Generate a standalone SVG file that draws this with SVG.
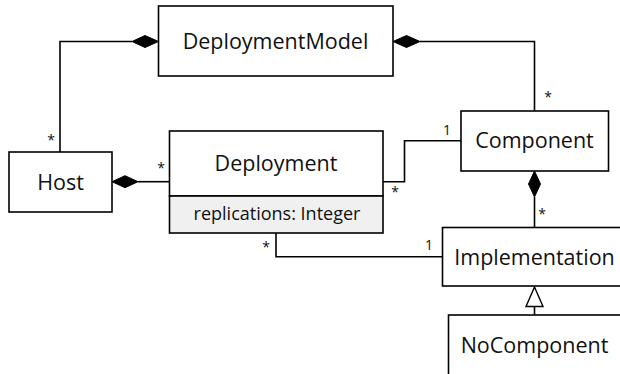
<svg xmlns="http://www.w3.org/2000/svg" width="620" height="374" viewBox="0 0 620 374">
  <defs>
    <style>
      .box { fill: #ffffff; stroke: #000000; stroke-width: 1.6; }
      .attr { fill: #f0f0f0; stroke: #000000; stroke-width: 1.6; }
      .line { fill: none; stroke: #000000; stroke-width: 1.6; }
      .dia { fill: #000000; stroke: #000000; stroke-width: 1; }
      .tri { fill: #ffffff; stroke: #000000; stroke-width: 1.4; }
      .name { font-family: "Open Sans", "Liberation Sans", sans-serif; font-size: 21.5px; fill: #111111; text-anchor: middle; }
      .field { font-family: "Open Sans", "Liberation Sans", sans-serif; font-size: 18px; fill: #111111; text-anchor: middle; }
      .mult { font-family: "Open Sans", "Liberation Sans", sans-serif; font-size: 14px; fill: #111111; text-anchor: middle; }
    </style>
  </defs>

  <rect width="620" height="374" fill="#ffffff"/>

  <g id="connectors">
    <!-- DeploymentModel <>— Host -->
    <polyline class="line" points="132,41.5 60,41.5 60,152"/>
    <polygon class="dia" points="158.5,41.5 145,35.5 132,41.5 145,47.5"/>
    <!-- DeploymentModel <>— Component -->
    <polyline class="line" points="420,41.5 534.5,41.5 534.5,111"/>
    <polygon class="dia" points="393,41.5 406.5,35.5 420,41.5 406.5,47.5"/>
    <!-- Host <>— Deployment -->
    <line class="line" x1="138" y1="181.7" x2="169.5" y2="181.7"/>
    <polygon class="dia" points="112,181.7 125,175.7 138,181.7 125,187.7"/>
    <!-- Deployment — Component -->
    <polyline class="line" points="383,181.7 404.5,181.7 404.5,140.7 461,140.7"/>
    <!-- Component <>— Implementation -->
    <line class="line" x1="534.5" y1="197" x2="534.5" y2="227.5"/>
    <polygon class="dia" points="534.5,171 540.5,184 534.5,197 528.5,184"/>
    <!-- Deployment — Implementation -->
    <polyline class="line" points="276,233 276,256.7 442.5,256.7"/>
    <!-- NoComponent generalizes Implementation -->
    <line class="line" x1="534.5" y1="306.5" x2="534.5" y2="315"/>
    <polygon class="tri" points="534.5,287 543,306.5 526,306.5"/>

    <!-- multiplicities -->
    <text class="mult" x="51" y="145">*</text>
    <text class="mult" x="161" y="173">*</text>
    <text class="mult" x="548" y="102">*</text>
    <text class="mult" x="447" y="135">1</text>
    <text class="mult" x="395" y="197">*</text>
    <text class="mult" x="542" y="219">*</text>
    <text class="mult" x="266" y="252">*</text>
    <text class="mult" x="429" y="250">1</text>
  </g>

  <g id="DeploymentModel">
    <rect class="box" x="158.5" y="6" width="234.5" height="70"/>
    <text class="name" x="275.5" y="49">DeploymentModel</text>
  </g>

  <g id="Host">
    <rect class="box" x="9" y="152" width="103" height="60"/>
    <text class="name" x="60.5" y="190">Host</text>
  </g>

  <g id="Deployment">
    <rect class="box" x="169.5" y="131" width="213.5" height="65"/>
    <rect class="attr" x="169.5" y="196" width="213.5" height="37"/>
    <text class="name" x="276" y="171">Deployment</text>
    <text class="field" x="277" y="220">replications: Integer</text>
  </g>

  <g id="Component">
    <rect class="box" x="461" y="111" width="147.5" height="60"/>
    <text class="name" x="534.5" y="148">Component</text>
  </g>

  <g id="Implementation">
    <rect class="box" x="442.5" y="227.5" width="190" height="58.5"/>
    <text class="name" x="534.5" y="265">Implementation</text>
  </g>

  <g id="NoComponent">
    <rect class="box" x="448.5" y="315" width="190" height="80"/>
    <text class="name" x="534.5" y="353">NoComponent</text>
  </g>
</svg>
